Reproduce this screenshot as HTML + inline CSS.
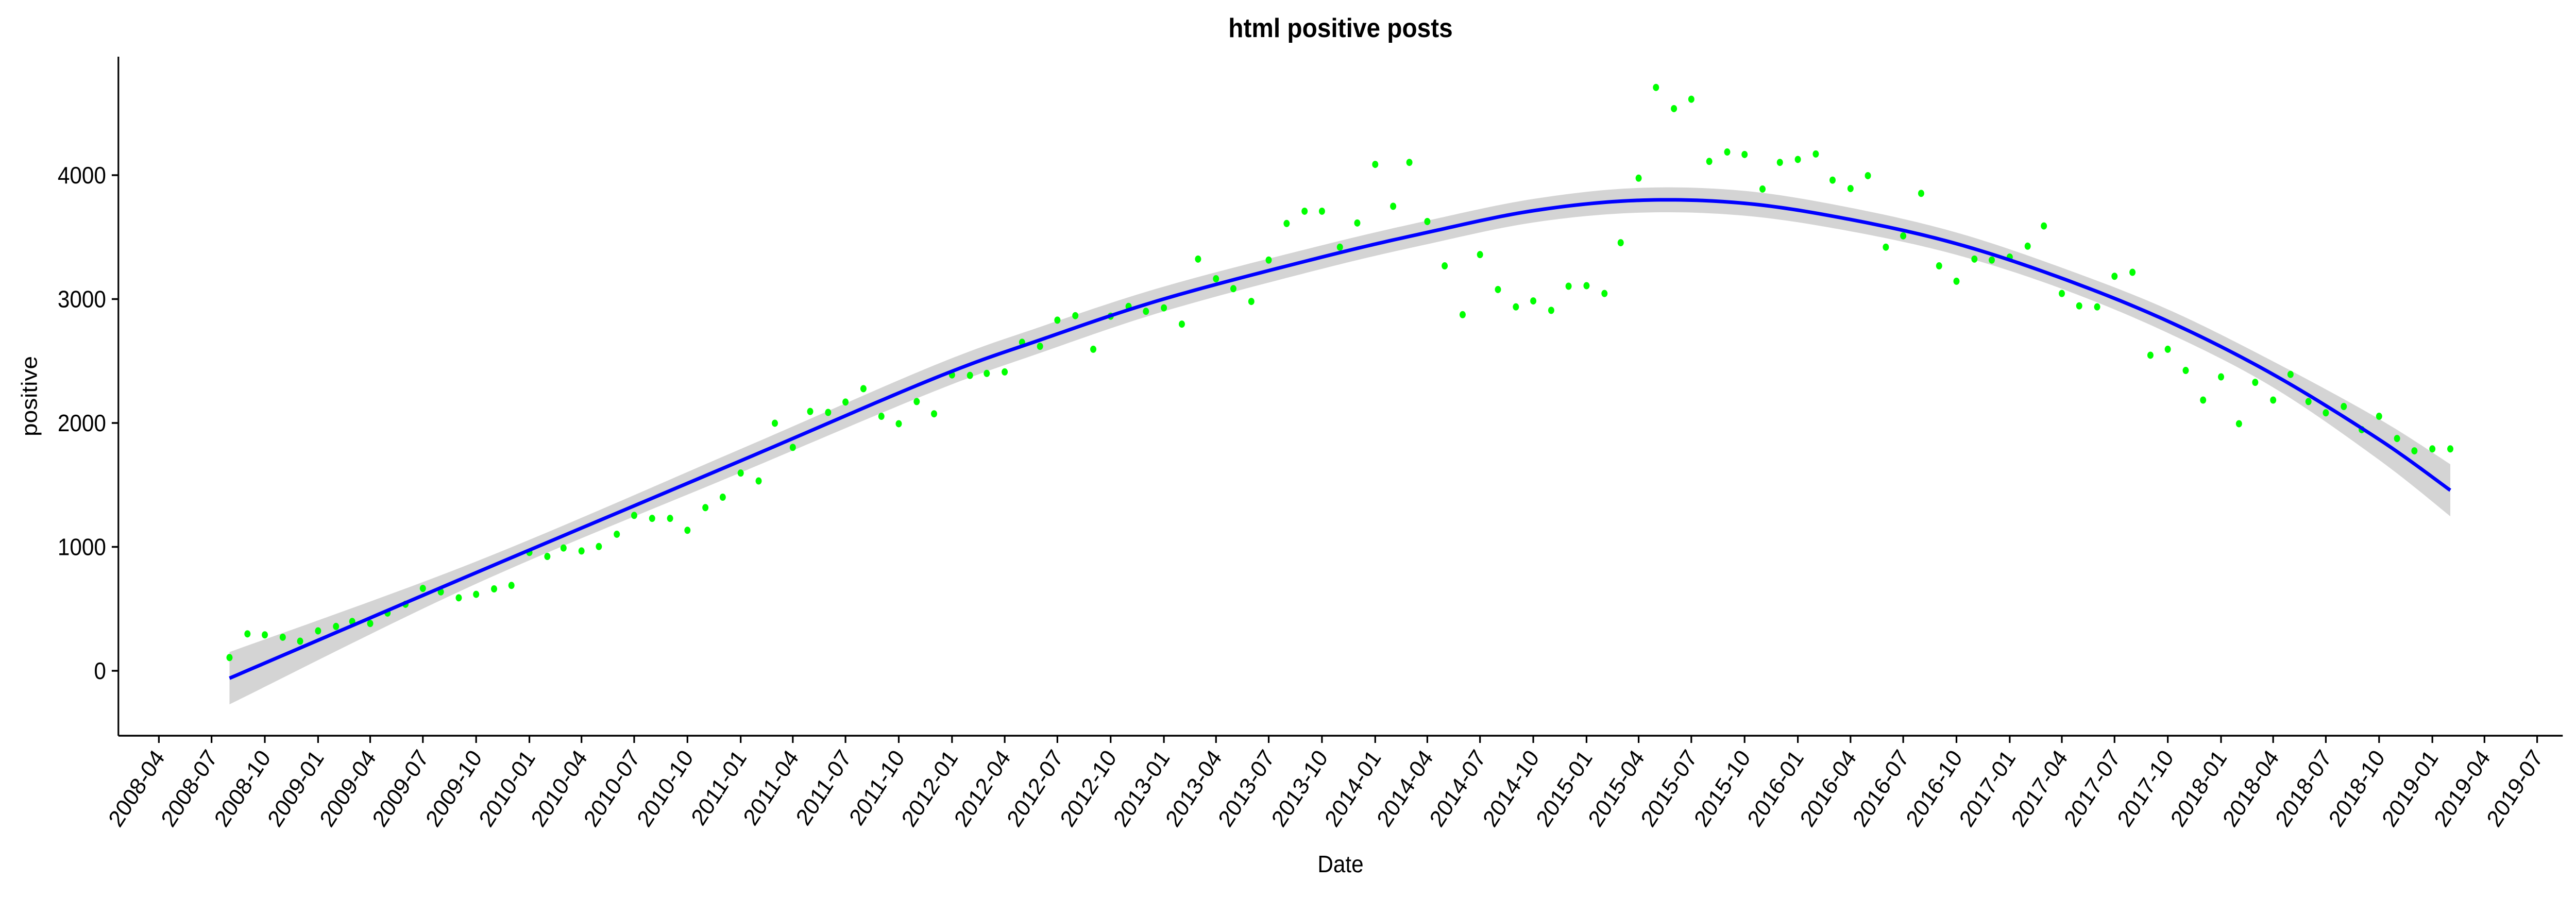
<!DOCTYPE html>
<html><head><meta charset="utf-8"><style>
html,body{margin:0;padding:0;background:#fff;overflow:hidden;width:100%;height:100%;}
svg{display:block;font-family:"Liberation Sans",sans-serif;width:100vw;height:100vh;}
</style></head><body>
<svg id="chart" viewBox="0 0 5440 1743" preserveAspectRatio="none" xmlns="http://www.w3.org/2000/svg">
<rect width="5440" height="1743" fill="#fff"/>
<text x="2831" y="72" text-anchor="middle" font-size="52" font-weight="bold">html positive posts</text>
<text x="0" y="0" transform="translate(78,769) rotate(-90)" text-anchor="middle" font-size="46">positive</text>
<text x="2831" y="1693" text-anchor="middle" font-size="46">Date</text>
<g id="band"></g>
<g id="pts"></g>
<g id="fit"></g>
<g id="axes"></g>
</svg>
<script>
const startMonth = "2008-08";
const positive = [107,298,290,271,239,
322,358,398,382,466,537,665,637,589,617,661,689,
955,923,991,967,1003,1102,1254,1230,1230,1134,1317,1401,
1596,1532,1998,1803,2093,2085,2169,2277,2054,1994,2173,2074,
2388,2384,2400,2412,2651,2619,2830,2866,2595,2862,2941,2901,
2929,2798,3323,3164,3084,2981,3315,3610,3709,3709,3419,3614,
4087,3749,4103,3626,3268,2874,3359,3077,2937,2985,2909,3104,
3108,3045,3455,3976,4708,4537,4613,4111,4187,4167,3888,4103,
4127,4171,3960,3892,3996,3419,3510,3853,3268,3144,3323,3315,
3339,3427,3590,3045,2945,2937,3184,3216,2547,2595,2424,2185,
2372,1994,2328,2185,2392,2173,2082,2133,1946,2054,1875,1775,
1791,1791];
const fitDates = ["2008-08","2009-10","2011-01","2011-12","2012-06","2013-01","2013-10","2014-04","2014-10","2015-04","2015-10","2016-04","2016-10","2017-04","2017-10","2018-04","2018-10","2019-02"];
const fitValues = [-60,792,1695,2360,2670,3001,3339,3538,3713,3797,3773,3642,3447,3168,2822,2392,1867,1457];
const fitSE = [211,90,95,105,105,100,95,95,95,100,100,95,90,85,95,105,165,210];
const yTicks = [0,1000,2000,3000,4000];
const xTickLabels = ["2008-04","2008-07","2008-10","2009-01","2009-04","2009-07","2009-10","2010-01","2010-04","2010-07","2010-10","2011-01","2011-04","2011-07","2011-10","2012-01","2012-04","2012-07","2012-10","2013-01","2013-04","2013-07","2013-10","2014-01","2014-04","2014-07","2014-10","2015-01","2015-04","2015-07","2015-10","2016-01","2016-04","2016-07","2016-10","2017-01","2017-04","2017-07","2017-10","2018-01","2018-04","2018-07","2018-10","2019-01","2019-04","2019-07"];

const NS="http://www.w3.org/2000/svg";
const X0=250, X1=5412, YB=1428, YT=110;
const origin=Date.UTC(2008,3,1);
function dayOf(s){const p=s.split("-");return (Date.UTC(+p[0],+p[1]-1,1)-origin)/86400000;}
function xs(s){return 335.5+dayOf(s)*1.2226;}
function ys(v){return 1302-v*0.2405;}
function monthStr(i){const p=startMonth.split("-");let m=(+p[1]-1)+i;const y=+p[0]+Math.floor(m/12);m=m%12+1;return y+"-"+(m<10?"0":"")+m;}
function mk(tag,attrs,parent){const e=document.createElementNS(NS,tag);for(const k in attrs)e.setAttribute(k,attrs[k]);parent.appendChild(e);return e;}

function smooth(px,py){
  const out=[[px[0],py[0]]];
  for(let i=0;i<px.length-1;i++){
    const i0=Math.max(0,i-1),i2=i+1,i3=Math.min(px.length-1,i+2);
    for(let t=1;t<=20;t++){
      const u=t/20,u2=u*u,u3=u2*u;
      const f=(a,b,c,dd)=>0.5*((2*b)+(-a+c)*u+(2*a-5*b+4*c-dd)*u2+(-a+3*b-3*c+dd)*u3);
      out.push([f(px[i0],px[i],px[i2],px[i3]),f(py[i0],py[i],py[i2],py[i3])]);
    }
  }
  return out;
}
const fx=fitDates.map(xs);
const upper=smooth(fx,fitValues.map((v,i)=>ys(v+fitSE[i])));
const lower=smooth(fx,fitValues.map((v,i)=>ys(v-fitSE[i])));
const mid=smooth(fx,fitValues.map(ys));
const band=document.getElementById("band");
const bp=mk("path",{d:"M"+upper.map(p=>p.join(",")).join("L")+"L"+lower.slice().reverse().map(p=>p.join(",")).join("L")+"Z",fill:"#d4d4d4"},band);



const pts=document.getElementById("pts");
positive.forEach((v,i)=>{
  const c=mk("ellipse",{cx:xs(monthStr(i)),cy:ys(v),rx:6.5,ry:7,fill:"#00ff00"},pts);
  
  
});
const fit=document.getElementById("fit");
const lp=mk("path",{d:"M"+mid.map(p=>p.join(",")).join("L"),fill:"none",stroke:"#0000ff","stroke-width":7},fit);



const ax=document.getElementById("axes");
const yl=mk("line",{x1:X0,y1:YT,x2:X0,y2:YB,stroke:"#000","stroke-width":3.5},ax);


const xl=mk("line",{x1:X0,y1:YB,x2:X1,y2:YB,stroke:"#000","stroke-width":3.5},ax);


yTicks.forEach(v=>{
  const y=ys(v);
  const t=mk("line",{x1:X0-14,y1:y,x2:X0,y2:y,stroke:"#000","stroke-width":3.5},ax);
  
  
  const l=mk("text",{x:X0-26,y:y+16,"text-anchor":"end","font-size":46,fill:"#000"},ax);
  l.textContent=v;
  
  
});
xTickLabels.forEach(s=>{
  const x=xs(s);
  const t=mk("line",{x1:x,y1:YB,x2:x,y2:YB+14,stroke:"#000","stroke-width":3.5},ax);
  
  
  const l=mk("text",{x:0,y:0,transform:"translate("+(x+14)+","+(YB+42)+") rotate(-55)","text-anchor":"end","font-size":46,fill:"#000"},ax);
  l.textContent=s;
  
  
});
</script>
</body></html>
